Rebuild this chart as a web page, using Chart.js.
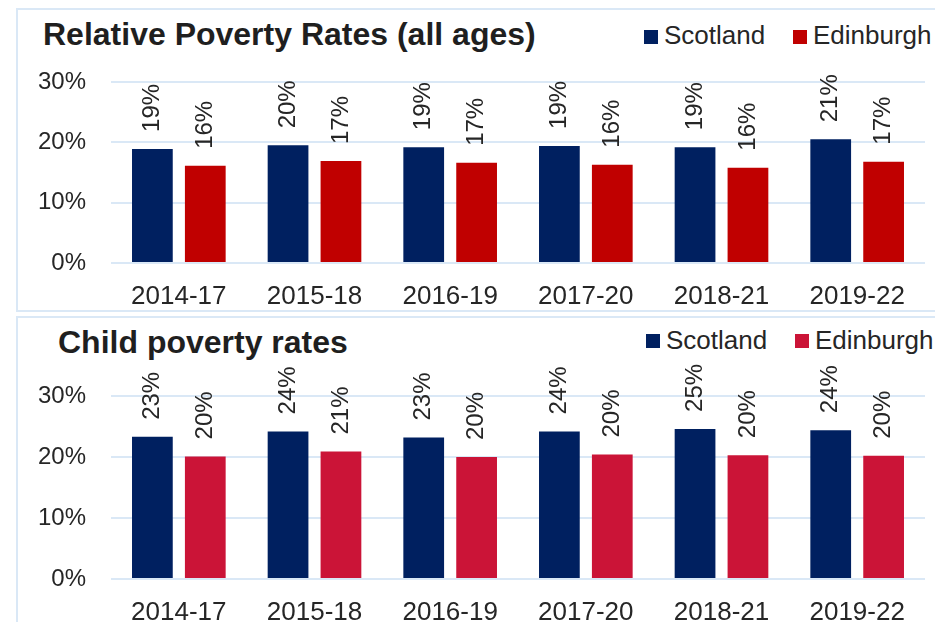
<!DOCTYPE html>
<html>
<head>
<meta charset="utf-8">
<script src="https://cdn.jsdelivr.net/npm/chart.js@4.4.1/dist/chart.umd.min.js"></script>
<style>
  html, body { margin: 0; padding: 0; background: #ffffff; }
  body { width: 935px; height: 622px; position: relative; overflow: hidden;
         font-family: "Liberation Sans", Arial, sans-serif; color: #262626; }
  .panel { position: absolute; left: 16px; width: 940px; border: 2px solid #DAE8F6; box-sizing: border-box; }
  .title { position: absolute; font-weight: bold; font-size: 32px; line-height: 32px; color: #1f1f1f; white-space: nowrap; }
  .lg-box { position: absolute; width: 14px; height: 14px; }
  .lg-text { position: absolute; font-size: 26px; line-height: 26px; white-space: nowrap; color: #262626; }
  canvas { position: absolute; left: 0; }
</style>
</head>
<body>
<div class="panel" style="top:8px;height:304px;"></div>
<div class="panel" style="top:316px;height:320px;"></div>

<div class="title" id="t1" style="left:43px;top:18px;"></div>
<div class="title" id="t2" style="left:58px;top:326px;"></div>

<div class="lg-box" id="l1a" style="left:644px;top:30px;"></div>
<div class="lg-text" id="l1at" style="left:664px;top:22px;"></div>
<div class="lg-box" id="l1b" style="left:793px;top:30px;"></div>
<div class="lg-text" id="l1bt" style="left:813px;top:22px;"></div>

<div class="lg-box" id="l2a" style="left:646px;top:334px;"></div>
<div class="lg-text" id="l2at" style="left:666px;top:327px;"></div>
<div class="lg-box" id="l2b" style="left:795px;top:334px;"></div>
<div class="lg-text" id="l2bt" style="left:815px;top:327px;"></div>

<canvas id="c1" width="935" height="311" style="top:0px;width:935px;height:311px;"></canvas>
<canvas id="c2" width="935" height="311" style="top:311px;width:935px;height:311px;"></canvas>

<script>
// ---- Data ----
const categories = ["2014-17", "2015-18", "2016-19", "2017-20", "2018-21", "2019-22"];
const seriesNames = ["Scotland", "Edinburgh"];

const title1 = "Relative Poverty Rates (all ages)";
const allAgesScotland  = [18.9, 19.5, 19.2, 19.4, 19.2, 20.5];
const allAgesEdinburgh = [16.1, 16.9, 16.6, 16.3, 15.8, 16.8];

const title2 = "Child poverty rates";
const childScotland  = [23.3, 24.2, 23.2, 24.2, 24.6, 24.4];
const childEdinburgh = [20.1, 20.9, 20.0, 20.4, 20.3, 20.2];

const yTicks = [0, 10, 20, 30];

// ---- Styles ----
const NAVY = "#002060";
const RED1 = "#C00000";
const RED2 = "#CB1437";
const GRID = "#DAE8F6";
const TEXT = "#262626";
const FONT = "'Liberation Sans', Arial, sans-serif";

document.getElementById('t1').textContent = title1;
document.getElementById('t2').textContent = title2;
function setLegend(prefix, c1, c2) {
  document.getElementById(prefix + 'a').style.background = c1;
  document.getElementById(prefix + 'b').style.background = c2;
  document.getElementById(prefix + 'at').textContent = seriesNames[0];
  document.getElementById(prefix + 'bt').textContent = seriesNames[1];
}
setLegend('l1', NAVY, RED1);
setLegend('l2', NAVY, RED2);

const labelPlugin = {
  id: 'rotLabels',
  afterDatasetsDraw(chart) {
    const ctx = chart.ctx;
    ctx.save();
    ctx.font = "24px " + FONT;
    ctx.fillStyle = TEXT;
    ctx.textAlign = 'left';
    ctx.textBaseline = 'middle';
    chart.data.datasets.forEach((ds, i) => {
      const meta = chart.getDatasetMeta(i);
      meta.data.forEach((bar, j) => {
        const v = ds.data[j];
        ctx.save();
        ctx.translate(bar.x, bar.y - 17);
        ctx.rotate(-Math.PI / 2);
        ctx.fillText(Math.round(v) + '%', 0, 0);
        ctx.restore();
      });
    });
    ctx.restore();
  }
};

function makeChart(id, s1, s2, red, padTop, xHeight) {
  return new Chart(document.getElementById(id), {
    type: 'bar',
    data: {
      labels: categories,
      datasets: [
        { label: seriesNames[0], data: s1, backgroundColor: NAVY },
        { label: seriesNames[1], data: s2, backgroundColor: red }
      ]
    },
    options: {
      responsive: false,
      animation: false,
      devicePixelRatio: 1,
      categoryPercentage: 0.78,
      barPercentage: 0.77,
      layout: { padding: { top: padTop, right: 10, bottom: 0, left: 0 } },
      plugins: { legend: { display: false }, title: { display: false }, tooltip: { enabled: false } },
      scales: {
        x: {
          grid: { display: false, drawTicks: false },
          border: { display: false },
          ticks: { color: TEXT, font: { family: FONT, size: 26 }, padding: 18, maxRotation: 0 },
          afterFit(scale) { scale.height = xHeight; }
        },
        y: {
          min: 0, max: 30,
          afterBuildTicks(scale) { scale.ticks = yTicks.map(v => ({ value: v })); },
          grid: { color: GRID, lineWidth: 2, drawTicks: false },
          border: { display: false },
          ticks: { color: TEXT, font: { family: FONT, size: 24 }, padding: 25,
                   callback: v => v + '%' },
          afterFit(scale) { scale.width = 111; }
        }
      }
    },
    plugins: [labelPlugin]
  });
}

makeChart('c1', allAgesScotland, allAgesEdinburgh, RED1, 82, 48);
makeChart('c2', childScotland, childEdinburgh, RED2, 85, 43);
</script>
</body>
</html>
